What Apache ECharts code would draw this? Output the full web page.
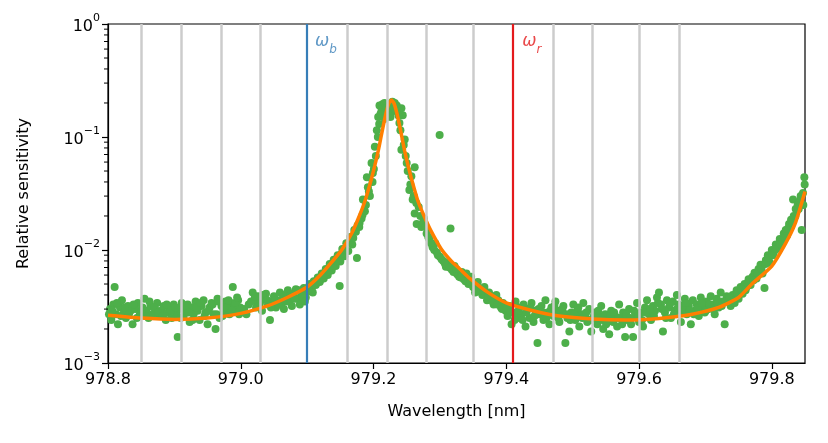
<!DOCTYPE html>
<html>
<head>
<meta charset="utf-8">
<script src="https://cdn.jsdelivr.net/npm/echarts@6/dist/echarts.min.js"></script>
<style>
  html, body { margin: 0; padding: 0; background: #fff; }
  #chart { width: 828px; height: 443px; }
</style>
</head>
<body>
<div id="chart"></div>
<script>
// measured sensitivity (wavelength nm, relative sensitivity), first scan
var measured = [
  [978.803,0.0030],[978.805,0.0024],[978.808,0.0033],[978.810,0.0047],[978.812,0.0027],[978.815,0.0022],
  [978.818,0.0031],[978.821,0.0036],[978.824,0.0028],[978.827,0.0025],[978.830,0.0032],[978.834,0.0029],
  [978.837,0.0022],[978.841,0.0030],[978.845,0.0034],[978.848,0.0027],[978.852,0.0031],[978.855,0.0037],
  [978.858,0.0029],[978.861,0.0025],[978.864,0.0032],[978.867,0.0027],[978.871,0.0030],[978.874,0.0034],
  [978.877,0.0026],[978.880,0.0029],[978.884,0.0032],[978.887,0.0024],[978.890,0.0028],[978.893,0.0031],
  [978.896,0.0025],[978.899,0.0033],[978.903,0.0027],[978.905,0.0017],[978.908,0.0030],[978.911,0.0034],
  [978.914,0.0026],[978.917,0.0029],[978.920,0.0033],[978.923,0.0023],[978.926,0.0031],[978.929,0.0027],
  [978.932,0.0035],[978.935,0.0029],[978.938,0.0024],[978.941,0.0032],[978.944,0.0036],[978.947,0.0028],
  [978.950,0.0022],[978.953,0.0031],[978.956,0.0034],[978.959,0.0027],[978.962,0.0020],[978.965,0.0037],
  [978.968,0.0025],[978.971,0.0032],[978.974,0.0029],[978.977,0.0035],[978.980,0.0031],[978.983,0.0027],
  [978.985,0.0034],[978.988,0.0047],[978.990,0.0033],[978.993,0.0029],[978.996,0.0036],[978.999,0.0031],
  [979.005,0.0030],[979.012,0.0033],[979.018,0.0042],[979.020,0.0036],[979.023,0.0031],[979.026,0.0039],
  [979.029,0.0034],[979.032,0.0029],[979.035,0.0037],[979.038,0.0041],[979.041,0.0033],[979.044,0.0024],
  [979.047,0.0035],[979.050,0.0039],[979.053,0.0031],[979.056,0.0036],[979.059,0.0042],[979.062,0.0034],
  [979.065,0.0030],[979.068,0.0038],[979.071,0.0044],[979.074,0.0036],[979.077,0.0032],[979.080,0.0040],
  [979.083,0.0045],[979.086,0.0037],[979.089,0.0033],[979.092,0.0041],[979.095,0.0046],[979.098,0.0038],
  [979.101,0.0043],[979.104,0.0050],[979.107,0.0046],[979.110,0.0053],[979.113,0.0049],[979.116,0.0057],
  [979.119,0.0052],[979.122,0.0062],[979.125,0.0056],[979.128,0.0068],[979.131,0.0060],[979.134,0.0075],
  [979.137,0.0066],[979.140,0.0082],[979.143,0.0072],[979.146,0.0090],[979.149,0.0048],[979.150,0.0079],
  [979.153,0.0102],[979.156,0.0088],[979.159,0.0115],[979.162,0.0098],[979.165,0.0130],[979.168,0.0112],
  [979.171,0.0150],[979.175,0.0085],[979.176,0.0165],[979.179,0.0173],[979.182,0.0190],[979.184,0.0280],
  [979.187,0.0220],[979.190,0.0440],[979.193,0.0330],[979.197,0.0590],[979.199,0.0480],[979.202,0.0820],
  [979.205,0.1150],[979.207,0.1500],[979.209,0.1900],[979.212,0.1700],[979.214,0.1850],[979.217,0.1450],
  [979.220,0.1700],[979.223,0.1950],[979.226,0.1650],[979.229,0.1800],[979.232,0.2000],[979.235,0.1900],
  [979.239,0.1330],[979.242,0.1800],[979.244,0.1560],[979.242,0.0770],[979.247,0.0950],[979.250,0.0590],
  [979.254,0.0340],[979.257,0.0450],[979.259,0.0280],[979.262,0.0540],[979.262,0.0210],[979.265,0.0170],
  [979.268,0.0240],[979.272,0.0160],[979.276,0.0190],[979.280,0.0140],[979.284,0.0125],[979.289,0.0106],
  [979.293,0.0115],[979.297,0.0090],[979.2996,0.1040],[979.300,0.0087],[979.305,0.0080],[979.309,0.0071],
  [979.312,0.0078],[979.316,0.0155],[979.318,0.0067],[979.322,0.0072],[979.326,0.0061],[979.329,0.0058],
  [979.333,0.0064],[979.336,0.0055],[979.340,0.0062],[979.343,0.0050],[979.347,0.0058],[979.350,0.0047],
  [979.353,0.0042],[979.357,0.0052],[979.360,0.0045],[979.364,0.0040],[979.367,0.0047],[979.371,0.0036],
  [979.374,0.0042],[979.378,0.0038],[979.381,0.0033],[979.385,0.0040],[979.388,0.0036],[979.392,0.0031],
  [979.395,0.0034],[979.399,0.0029],[979.402,0.0026],[979.405,0.0032],[979.408,0.0022],[979.411,0.0028],
  [979.414,0.0035],[979.417,0.0025],[979.420,0.0031],[979.423,0.0027],[979.426,0.0033],[979.429,0.0021],
  [979.432,0.0030],[979.435,0.0025],[979.438,0.0034],[979.441,0.0023],[979.444,0.0029],[979.447,0.0015],
  [979.450,0.0027],[979.453,0.0032],[979.456,0.0024],[979.459,0.0036],[979.462,0.0028],[979.465,0.0022],
  [979.468,0.0031],[979.471,0.0026],[979.474,0.0035],[979.477,0.0029],[979.480,0.0023],[979.483,0.0027],
  [979.486,0.0032],[979.489,0.0015],[979.492,0.0025],[979.495,0.0019],[979.498,0.0028],[979.501,0.0033],
  [979.504,0.0024],[979.507,0.0029],[979.510,0.0021],[979.513,0.0027],[979.516,0.0034],[979.519,0.0026],
  [979.522,0.0023],[979.525,0.0030],[979.528,0.0019],[979.531,0.0025],[979.534,0.0028],[979.537,0.0022],
  [979.540,0.0026],[979.543,0.0032],[979.546,0.0020],[979.549,0.0027],[979.552,0.0024],[979.555,0.0018],
  [979.558,0.0029],[979.561,0.0023],[979.564,0.0026],[979.567,0.0021],[979.570,0.0033],[979.573,0.0025],
  [979.576,0.0028],[979.579,0.0017],[979.582,0.0024],[979.585,0.0030],[979.588,0.0022],[979.591,0.0017],
  [979.594,0.0026],[979.597,0.0034],[979.600,0.0023],[979.603,0.0028],[979.606,0.0021],[979.609,0.0031],
  [979.612,0.0036],[979.615,0.0027],[979.618,0.0024],[979.621,0.0032],[979.624,0.0029],[979.627,0.0038],
  [979.630,0.0042],[979.633,0.0033],[979.636,0.0019],[979.639,0.0028],[979.642,0.0036],[979.645,0.0031],
  [979.648,0.0025],[979.651,0.0035],[979.654,0.0029],[979.657,0.0040],[979.660,0.0033],[979.663,0.0023],
  [979.666,0.0030],[979.669,0.0037],[979.672,0.0027],[979.675,0.0032],[979.678,0.0022],[979.681,0.0036],
  [979.684,0.0029],[979.687,0.0033],[979.690,0.0026],[979.693,0.0038],[979.696,0.0031],[979.699,0.0028],
  [979.702,0.0035],[979.705,0.0030],[979.708,0.0039],[979.711,0.0033],[979.714,0.0027],[979.717,0.0037],
  [979.720,0.0031],[979.723,0.0042],[979.726,0.0035],[979.729,0.0022],[979.732,0.0039],[979.735,0.0036],
  [979.738,0.0032],[979.741,0.0040],[979.744,0.0034],[979.747,0.0044],[979.750,0.0037],[979.753,0.0047],
  [979.756,0.0041],[979.759,0.0050],[979.762,0.0047],[979.765,0.0055],[979.768,0.0049],[979.771,0.0058],
  [979.774,0.0063],[979.777,0.0056],[979.780,0.0068],[979.783,0.0074],[979.786,0.0062],[979.789,0.0046],
  [979.791,0.0081],[979.794,0.0090],[979.797,0.0077],[979.800,0.0100],[979.803,0.0095],[979.806,0.0112],
  [979.809,0.0105],[979.812,0.0125],[979.815,0.0118],[979.818,0.0140],[979.821,0.0150],[979.823,0.0135],
  [979.826,0.0170],[979.829,0.0185],[979.832,0.0280],[979.833,0.0200],[979.836,0.0230],[979.839,0.0250],
  [979.842,0.0270],[979.845,0.0150],[979.847,0.0320],[979.849,0.0440]
];

// second scan, interleaved with the first
var measured2 = [
  [978.8015,0.0027],[978.8065,0.0029],[978.8135,0.0034],[978.8195,0.0026],[978.8255,0.0031],[978.8315,0.0027],
  [978.8385,0.0033],[978.8435,0.0025],[978.8505,0.0029],[978.8565,0.0026],[978.8625,0.0035],[978.8695,0.0031],
  [978.8755,0.0028],[978.8825,0.0026],[978.8885,0.0033],[978.8945,0.0029],[978.9015,0.0031],[978.9095,0.0025],
  [978.9155,0.0032],[978.9215,0.0028],[978.9275,0.0024],[978.9335,0.0031],[978.9395,0.0034],[978.9455,0.0026],
  [978.9515,0.0029],[978.9575,0.0033],[978.9635,0.0027],[978.9665,0.0035],[978.9725,0.0026],[978.9785,0.0031],
  [978.9815,0.0036],[978.9865,0.0029],[978.9915,0.0034],[978.9945,0.0038],[978.9975,0.0027],
  [979.0085,0.0027],[979.0155,0.0035],[979.0215,0.0039],[979.0275,0.0032],[979.0335,0.0040],[979.0395,0.0036],
  [979.0455,0.0031],[979.0515,0.0036],[979.0575,0.0033],[979.0635,0.0040],[979.0695,0.0035],[979.0755,0.0041],
  [979.0815,0.0037],[979.0875,0.0044],[979.0935,0.0039],[979.0965,0.0035],
  [979.1025,0.0047],[979.1085,0.0042],[979.1145,0.0051],[979.1205,0.0055],[979.1265,0.0061],[979.1325,0.0065],
  [979.1385,0.0072],[979.1445,0.0080],[979.1515,0.0092],[979.1575,0.0100],[979.1635,0.0118],[979.1695,0.0128],
  [979.1735,0.0145],[979.1785,0.0160],[979.1835,0.0205],[979.1885,0.0250],[979.1915,0.0360],[979.1945,0.0300],
  [979.1985,0.0400],[979.2005,0.0520],[979.2035,0.0680],[979.2065,0.1000],[979.2085,0.1300],[979.2105,0.1600],
  [979.2135,0.1950],[979.2165,0.2000],[979.2195,0.1800],
  [979.2255,0.1500],[979.2285,0.2050],[979.2335,0.1700],[979.2375,0.1550],[979.2405,0.1150],[979.2455,0.0850],
  [979.2485,0.0680],[979.2515,0.0500],[979.2555,0.0380],[979.2605,0.0300],[979.2645,0.0260],[979.2705,0.0200],
  [979.2745,0.0175],[979.2785,0.0160],[979.2825,0.0130],[979.2865,0.0115],[979.2915,0.0100],[979.2955,0.0095],
  [979.3025,0.0083],[979.3075,0.0076],[979.3145,0.0070],[979.3205,0.0064],[979.3245,0.0068],[979.3315,0.0057],
  [979.3385,0.0053],[979.3455,0.0052],[979.3525,0.0046],[979.3585,0.0043],[979.3655,0.0044],[979.3725,0.0039],
  [979.3795,0.0035],[979.3865,0.0033],[979.3935,0.0030],[979.4005,0.0031],[979.4065,0.0028],[979.4125,0.0024],
  [979.4185,0.0029],
  [979.4245,0.0024],[979.4305,0.0028],[979.4365,0.0031],[979.4425,0.0026],[979.4485,0.0030],[979.4545,0.0028],
  [979.4605,0.0025],[979.4665,0.0029],[979.4725,0.0032],[979.4785,0.0025],[979.4845,0.0030],[979.4905,0.0027],
  [979.4965,0.0024],[979.5025,0.0027],[979.5085,0.0031],[979.5145,0.0025],[979.5205,0.0028],[979.5265,0.0024],
  [979.5325,0.0027],[979.5385,0.0029],[979.5445,0.0024],[979.5505,0.0022],[979.5565,0.0026],[979.5625,0.0028],
  [979.5685,0.0025],[979.5745,0.0022],[979.5805,0.0027],[979.5865,0.0025],[979.5925,0.0029],[979.5985,0.0026],
  [979.6045,0.0024],[979.6105,0.0028],[979.6165,0.0030],[979.6225,0.0026],[979.6285,0.0034],[979.6345,0.0030],
  [979.6405,0.0025],[979.6465,0.0033],[979.6525,0.0027],[979.6585,0.0031],[979.6645,0.0028],[979.6705,0.0034],
  [979.6765,0.0029],[979.6825,0.0027],[979.6885,0.0031],[979.6945,0.0034],[979.7005,0.0029],[979.7065,0.0033],
  [979.7125,0.0030],[979.7185,0.0034],[979.7245,0.0032],[979.7305,0.0035],[979.7365,0.0038],
  [979.7425,0.0036],[979.7485,0.0041],[979.7545,0.0045],[979.7605,0.0044],[979.7665,0.0052],[979.7725,0.0054],
  [979.7785,0.0062],[979.7845,0.0068],[979.7905,0.0075],[979.7955,0.0085],[979.8015,0.0090],[979.8075,0.0102],
  [979.8135,0.0112],[979.8195,0.0128],[979.8245,0.0155],[979.8305,0.0175],[979.8355,0.0200],[979.8405,0.0230],
  [979.8435,0.0300],[979.8475,0.0250],[979.8495,0.0380]
];

// fitted model
var fitX = [978.80, 978.85, 978.90, 978.95, 979.00, 979.04, 979.07, 979.10, 979.12, 979.137, 979.152, 979.167,
  979.177, 979.187, 979.197, 979.202, 979.207, 979.211, 979.215, 979.219, 979.223, 979.227, 979.231, 979.235,
  979.239, 979.243, 979.247, 979.252, 979.257, 979.267, 979.277, 979.287, 979.302, 979.317, 979.33, 979.345,
  979.37, 979.40, 979.44, 979.48, 979.53, 979.58, 979.63, 979.68, 979.72, 979.75, 979.77, 979.80, 979.82,
  979.835, 979.85];
var fitY = [0.00265, 0.00250, 0.00243, 0.00250, 0.00275, 0.00320, 0.00380, 0.00470, 0.00600, 0.00780, 0.0100, 0.0140,
  0.0190, 0.0270, 0.0430, 0.0560, 0.0750, 0.0980, 0.128, 0.164, 0.198, 0.213, 0.198, 0.164,
  0.128, 0.098, 0.075, 0.056, 0.043, 0.027, 0.0195, 0.0146, 0.0102, 0.0080, 0.0068, 0.0056,
  0.0043, 0.0034, 0.0029, 0.0026, 0.00245, 0.00240, 0.00248, 0.0027, 0.0031, 0.0038, 0.0050, 0.0072, 0.0112,
  0.0170, 0.0330];

// grey comb lines, and the two marked wavelengths
var combLines = [978.846, 978.909, 978.971, 979.033, 979.158, 979.220, 979.282, 979.347, 979.470, 979.532, 979.595, 979.657];
var omegaB = 979.095;
var omegaR = 979.407;

// minor log ticks on the y axis
var minorTicks = [0.002,0.003,0.004,0.005,0.006,0.007,0.008,0.009,
  0.02,0.03,0.04,0.05,0.06,0.07,0.08,0.09,
  0.2,0.3,0.4,0.5,0.6,0.7,0.8,0.9];

var xMin = 978.8, xMax = 979.85;
var fontFam = 'DejaVu Sans';

var fitData = fitX.map(function (x, i) { return [x, fitY[i]]; });

var chart = echarts.init(document.getElementById('chart'));
chart.setOption({
  animation: false,
  textStyle: { fontFamily: fontFam },
  grid: { left: 108, right: 23, top: 24, bottom: 80, show: true, borderColor: '#000', borderWidth: 1.2, backgroundColor: 'transparent' },
  xAxis: {
    type: 'value', min: xMin, max: xMax, interval: 0.2,
    name: 'Wavelength [nm]', nameLocation: 'middle', nameGap: 41,
    nameTextStyle: { fontSize: 16, color: '#000', fontFamily: fontFam },
    axisLine: { show: true, lineStyle: { color: '#000', width: 1.2 } },
    axisTick: { show: true, length: 6, lineStyle: { color: '#000', width: 1.2 } },
    axisLabel: {
      fontSize: 16, color: '#000', margin: 9, fontFamily: fontFam, showMaxLabel: false,
      formatter: function (v) {
        var k = Math.round((v - xMin) / 0.2);
        if (Math.abs(v - (xMin + k * 0.2)) > 1e-6) return '';
        return v.toFixed(1);
      }
    },
    splitLine: { show: false }
  },
  yAxis: {
    type: 'log', logBase: 10, min: 0.001, max: 1,
    name: 'Relative sensitivity', nameLocation: 'middle', nameGap: 76,
    nameTextStyle: { fontSize: 16, color: '#000', fontFamily: fontFam },
    axisLine: { show: true, lineStyle: { color: '#000', width: 1.2 } },
    axisTick: { show: true, length: 6, lineStyle: { color: '#000', width: 1.2 } },
    axisLabel: {
      color: '#000', margin: 8,
      formatter: function (v) {
        var e = Math.round(Math.log10(v));
        return '{b|10}{s|' + (e < 0 ? '\u2212' + (-e) : e) + '}';
      },
      rich: {
        b: { fontSize: 16, fontFamily: fontFam, color: '#000', lineHeight: 22, verticalAlign: 'bottom' },
        s: { fontSize: 11, fontFamily: fontFam, color: '#000', lineHeight: 22, verticalAlign: 'top' }
      }
    },
    splitLine: { show: false }
  },
  series: [
    {
      // grey comb
      type: 'line', data: [], z: 1, silent: true,
      markLine: {
        silent: true, symbol: 'none', animation: false,
        label: { show: false },
        lineStyle: { color: '#cccccc', width: 2.5, type: 'solid' },
        data: combLines.map(function (x) { return { xAxis: x }; })
      }
    },
    {
      type: 'scatter', data: measured.concat(measured2), z: 2, symbolSize: 8,
      itemStyle: { color: '#4daf4a', opacity: 1 }
    },
    {
      type: 'line', data: [], z: 3, silent: true,
      markLine: {
        silent: true, symbol: 'none', animation: false,
        label: { show: false },
        data: [
          { xAxis: omegaB, lineStyle: { color: '#377eb8', width: 2.2, type: 'solid' } },
          { xAxis: omegaR, lineStyle: { color: '#e41a1c', width: 2.2, type: 'solid' } }
        ]
      }
    },
    {
      type: 'line', data: fitData, z: 4, smooth: 0.2, showSymbol: false,
      lineStyle: { color: '#ff7f00', width: 3.5 }
    },
    {
      // omega labels
      type: 'scatter', z: 5, symbolSize: 0, silent: true,
      data: [
        { value: [omegaB + 0.017, 0.66], label: { color: '#377eb8' }, name: 'b' },
        { value: [omegaR + 0.017, 0.66], label: { color: '#e41a1c' }, name: 'r' }
      ],
      label: {
        show: true, position: 'right', distance: 0,
        formatter: function (p) { return '{w|\u03c9}{s|' + p.name + '}'; },
        rich: {
          w: { fontSize: 17, fontStyle: 'italic', fontFamily: fontFam, lineHeight: 22, verticalAlign: 'top' },
          s: { fontSize: 12, fontStyle: 'italic', fontFamily: fontFam, lineHeight: 22, verticalAlign: 'bottom' }
        }
      }
    }
  ]
});

// minor log ticks on the left spine, placed through the axis scale
var x0 = chart.convertToPixel({ xAxisIndex: 0 }, xMin);
chart.setOption({
  graphic: minorTicks.map(function (v) {
    var y = chart.convertToPixel({ yAxisIndex: 0 }, v);
    return {
      type: 'line', silent: true, z: 100,
      shape: { x1: x0 - 4, y1: y, x2: x0, y2: y },
      style: { stroke: '#000', lineWidth: 1 }
    };
  })
});
</script>
</body>
</html>
